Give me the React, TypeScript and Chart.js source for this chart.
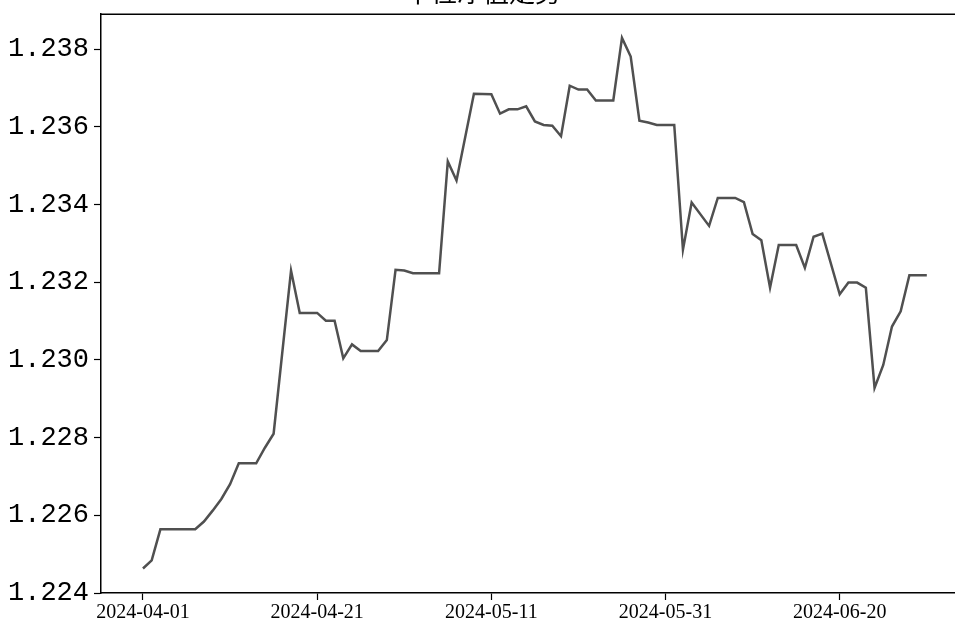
import React, { useEffect, useRef } from "react";
import { Chart, registerables } from "chart.js";

Chart.register(...registerables);

const TITLE = "单位净值走势";
const X_START = "2024-04-01";

const navDates = [
  "2024-04-01", "2024-04-02", "2024-04-03", "2024-04-07", "2024-04-08", "2024-04-09",
  "2024-04-10", "2024-04-11", "2024-04-12", "2024-04-14", "2024-04-15", "2024-04-16",
  "2024-04-18", "2024-04-19", "2024-04-21", "2024-04-22", "2024-04-23", "2024-04-24",
  "2024-04-25", "2024-04-26", "2024-04-28", "2024-04-29", "2024-04-30", "2024-05-01",
  "2024-05-02", "2024-05-05", "2024-05-06", "2024-05-07", "2024-05-09", "2024-05-11",
  "2024-05-12", "2024-05-13", "2024-05-14", "2024-05-15", "2024-05-16", "2024-05-17",
  "2024-05-18", "2024-05-19", "2024-05-20", "2024-05-21", "2024-05-22", "2024-05-23",
  "2024-05-25", "2024-05-26", "2024-05-27", "2024-05-28", "2024-05-29", "2024-05-30",
  "2024-06-01", "2024-06-02", "2024-06-03", "2024-06-05", "2024-06-06", "2024-06-08",
  "2024-06-09", "2024-06-10", "2024-06-11", "2024-06-12", "2024-06-13", "2024-06-15",
  "2024-06-16", "2024-06-17", "2024-06-18", "2024-06-20", "2024-06-21", "2024-06-22",
  "2024-06-23", "2024-06-24", "2024-06-25", "2024-06-26", "2024-06-27", "2024-06-28",
  "2024-06-30",
];

const navValues = [
  1.22463, 1.22484, 1.22564, 1.22564, 1.22584, 1.22612,
  1.22642, 1.2268, 1.22734, 1.22734, 1.22774, 1.2281,
  1.2323, 1.23121, 1.23121, 1.23101, 1.23101, 1.23004,
  1.2304, 1.23023, 1.23023, 1.23051, 1.23232, 1.2323,
  1.23223, 1.23223, 1.23511, 1.23462, 1.23685, 1.23684,
  1.23634, 1.23645, 1.23645, 1.23653, 1.23614, 1.23605,
  1.23603, 1.23576, 1.23706, 1.23696, 1.23696, 1.23668,
  1.23668, 1.23829, 1.23781, 1.23616, 1.23611, 1.23605,
  1.23605, 1.23284, 1.23405, 1.23345, 1.23417, 1.23417,
  1.23406, 1.23324, 1.23308, 1.23186, 1.23296, 1.23296,
  1.23237, 1.23317, 1.23325, 1.23169, 1.23199, 1.23199,
  1.23186, 1.22928, 1.22987, 1.23086, 1.23125, 1.23218,
  1.23218,
];

const xTickDates = ["2024-04-01", "2024-04-21", "2024-05-11", "2024-05-31", "2024-06-20"];
const yTickValues = [1.224, 1.226, 1.228, 1.23, 1.232, 1.234, 1.236, 1.238];

const DAY_MS = 86400000;
const startMs = Date.parse(X_START + "T00:00:00Z");
const dayOf = (s: string) => (Date.parse(s + "T00:00:00Z") - startMs) / DAY_MS;
const dayToLabel = (d: number) =>
  new Date(startMs + Math.round(d) * DAY_MS).toISOString().slice(0, 10);

const framePlugin = {
  id: "frame",
  afterDatasetsDraw(chart: any) {
    const { ctx, chartArea } = chart;
    const { left, top, right, bottom } = chartArea;
    ctx.save();
    ctx.strokeStyle = "#000";
    ctx.lineWidth = 1.5;
    ctx.beginPath();
    ctx.moveTo(left, top);
    ctx.lineTo(right, top);
    ctx.lineTo(right, bottom);
    ctx.stroke();
    ctx.restore();
  },
};

export default function App() {
  const canvasRef = useRef<HTMLCanvasElement | null>(null);

  useEffect(() => {
    if (!canvasRef.current) return;
    const points = navDates.map((d, i) => ({ x: dayOf(d), y: navValues[i] }));
    const tickStyle = {
      drawOnChartArea: false,
      drawTicks: true,
      tickLength: 7,
      tickColor: "#000",
      tickWidth: 1.2,
    };
    const chart = new Chart(canvasRef.current, {
      type: "line",
      data: {
        datasets: [
          {
            data: points,
            borderColor: "#505050",
            borderWidth: 2.5,
            pointRadius: 0,
            tension: 0,
            fill: false,
          },
        ],
      },
      options: {
        animation: false,
        responsive: true,
        maintainAspectRatio: false,
        layout: { padding: { top: 0, right: 9, bottom: 0, left: 0 } },
        plugins: {
          legend: { display: false },
          tooltip: { enabled: false },
          title: {
            display: true,
            text: TITLE,
            color: "#000",
            font: { family: '"Noto Sans CJK SC"', size: 26, weight: "normal", lineHeight: 1.2 },
            padding: { top: 0, bottom: 6 },
          },
        },
        scales: {
          x: {
            type: "linear",
            min: -4.82,
            max: 94.5,
            afterBuildTicks: (s: any) => {
              s.ticks = xTickDates.map((d) => ({ value: dayOf(d) }));
            },
            afterFit: (s: any) => {
              s.height = 40;
            },
            ticks: {
              callback: (v: any) => dayToLabel(Number(v)),
              autoSkip: false,
              maxRotation: 0,
              padding: 1,
              color: "#000",
              font: { family: '"Liberation Serif"', size: 20 },
            },
            grid: tickStyle,
            border: { display: true, color: "#000", width: 1.5 },
          },
          y: {
            type: "linear",
            min: 1.224,
            max: 1.2389,
            afterBuildTicks: (s: any) => {
              s.ticks = yTickValues.map((v) => ({ value: v }));
            },
            afterFit: (s: any) => {
              s.width = 101;
            },
            ticks: {
              callback: (v: any) => Number(v).toFixed(3),
              padding: 5,
              color: "#000",
              font: { family: '"Liberation Mono"', size: 27 },
            },
            grid: tickStyle,
            border: { display: true, color: "#000", width: 1.5 },
          },
        },
      } as any,
      plugins: [framePlugin],
    });
    return () => chart.destroy();
  }, []);

  return (
    <div
      style={{
        position: "fixed",
        left: 0,
        top: 0,
        width: 955,
        height: 624,
        overflow: "hidden",
        background: "#fff",
      }}
    >
      <div style={{ position: "absolute", left: 0, top: -23, width: 975, height: 656 }}>
        <canvas ref={canvasRef} />
      </div>
    </div>
  );
}
